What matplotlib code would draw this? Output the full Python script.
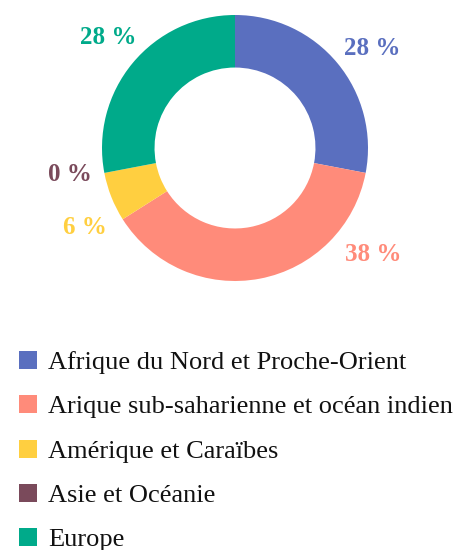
import matplotlib.pyplot as plt
from matplotlib.patches import Rectangle

categories = ["Afrique du Nord et Proche-Orient",
              "Arique sub-saharienne et océan indien",
              "Amérique et Caraïbes",
              "Asie et Océanie",
              "Europe"]
shares = [28, 38, 6, 0, 28]
colors = ["#5a6fbf", "#ff8b7a", "#ffcf40", "#7a4a5b", "#00aa8a"]
# where each percentage label sits (pie data units, radius = 1)
label_pos = [(1.03, 0.75), (1.04, -0.80), (-1.13, -0.60), (-1.24, -0.20), (-0.95, 0.83)]

W, H = 457, 550
fig = plt.figure(figsize=(W / 100, H / 100), dpi=100)
plt.rcParams['font.family'] = ['Liberation Serif', 'DejaVu Serif']

cx, cy, r = 235, 148, 133
ax = fig.add_axes([(cx - r) / W, (H - cy - r) / H, 2 * r / W, 2 * r / H])
ax.pie(shares, colors=colors, startangle=90, counterclock=False, radius=1,
       wedgeprops=dict(width=0.395, linewidth=0))
ax.set_xlim(-1, 1)
ax.set_ylim(-1, 1)
ax.set_aspect('auto')
ax.axis('off')

for v, c, (x, y) in zip(shares, colors, label_pos):
    ax.text(x, y, f"{v} %", color=c, fontsize=18, fontweight='bold',
            ha='center', va='center', clip_on=False)

# legend drawn by hand
top, step, sq = 360, 44.3, 18
for i, (name, c) in enumerate(zip(categories, colors)):
    yc = top + i * step
    fig.patches.append(Rectangle((19 / W, (H - yc - sq / 2) / H), sq / W, sq / H,
                                 facecolor=c, transform=fig.transFigure))
    fig.text(48 / W, (H - yc - 9) / H, name, fontsize=19, va='baseline', color='#111111')

fig.savefig("out.png", dpi=100)
